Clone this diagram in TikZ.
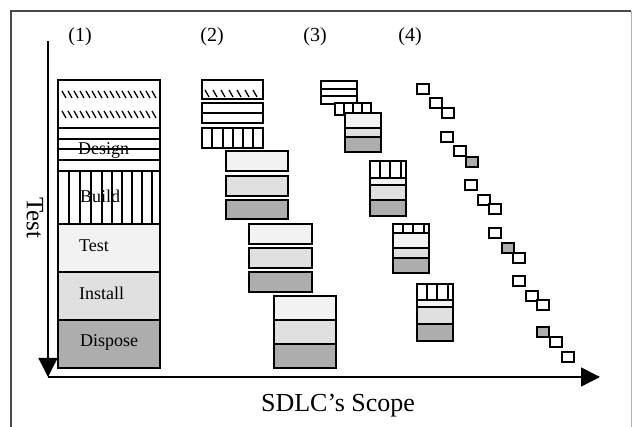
\documentclass[tikz,border=0pt]{standalone}
\usepackage{fontspec}
\setmainfont{Liberation Serif}
\usepackage{tikz}
\usetikzlibrary{arrows.meta}
\definecolor{FrameGray}{HTML}{4A4A4A}
\definecolor{PaleGray} {HTML}{F2F2F2}
\definecolor{LightGray}{HTML}{E0E0E0}
\definecolor{MidGray}  {HTML}{ADADAD}

\begin{document}
\begin{tikzpicture}[
  x=1pt, y=-1pt,
  every node/.style={font=\fontsize{18}{20}\selectfont, inner sep=0pt},
  box/.style={draw, line width=1.5pt},
  rule/.style={line width=1.3pt},
  hatch/.style={line width=1.3pt},
  stage/.style={font=\fontsize{20}{22}\selectfont},
  axis/.style={line width=1.5pt, -{Triangle[length=19pt, width=19pt]}},
]
\useasboundingbox (0,0) rectangle (632,427);

% Frame
\draw[FrameGray, line width=1.3pt] (11,427) -- (11,11) -- (631,11);
\draw[gray!60, line width=1pt] (631,11) -- (631,427);

% Axes
\coordinate (origin) at (48,377);
\coordinate (ytop)   at (48,41);
\coordinate (xend)   at (600,377);
\draw[axis] (ytop) -- (origin);
\draw[axis] (origin) -- (xend);
\node[rotate=-90, font=\fontsize{25}{27}\selectfont] (testaxis) at (35,218) {Test};
\node[anchor=base, font=\fontsize{26}{28}\selectfont] (scope) at (338,412) {SDLC’s Scope};

% Stage labels
\node[stage] (s1) at (80,37)  {(1)};
\node[stage] (s2) at (212,37) {(2)};
\node[stage] (s3) at (315,37) {(3)};
\node[stage] (s4) at (410,37) {(4)};

% Column 1: full life cycle
\fill[PaleGray]  (58,224) rectangle (160,272);
\fill[LightGray] (58,272) rectangle (160,320);
\fill[MidGray]   (58,320) rectangle (160,368);
\foreach \y in {95,115}
  \foreach \x in {62,68,...,154}
    \draw[hatch] (\x,\y-4) -- (\x+4,\y+3);
\foreach \y in {139,149,160}
  \draw[rule] (58,\y) -- (160,\y);
\foreach \x in {69,80,91,102,112,122,132,142,152}
  \draw[rule] (\x,171) -- (\x,224);
\foreach \y in {128,171,224,272,320}
  \draw[rule] (58,\y) -- (160,\y);
\draw[box] (58,80) rectangle (160,368);

\node[anchor=base west] (design)  at (78,155) {Design};
\node[anchor=base west] (build)   at (80,203) {Build};
\node[anchor=base west] (test)    at (79,252) {Test};
\node[anchor=base west] (install) at (79,300) {Install};
\node[anchor=base west] (dispose) at (80,347) {Dispose};

% Column 2: phases in sequence
\foreach \x in {205,213,...,257}
  \draw[hatch] (\x,90) -- (\x+4,97);
\draw[box] (202,80) rectangle (263,99);
\draw[box] (202,103) rectangle (263,123);
\draw[rule] (202,113) -- (263,113);
\foreach \x in {212,223,233,243,253}
  \draw[rule] (\x,128) -- (\x,148);
\draw[box] (202,128) rectangle (263,148);

\draw[box, fill=PaleGray]  (226,151) rectangle (288,171);
\draw[box, fill=LightGray] (226,176) rectangle (288,196);
\draw[box, fill=MidGray]   (226,200) rectangle (288,219);

\draw[box, fill=PaleGray]  (249,224) rectangle (312,244);
\draw[box, fill=LightGray] (249,248) rectangle (312,268);
\draw[box, fill=MidGray]   (249,272) rectangle (312,292);

\fill[PaleGray]  (274,296) rectangle (336,320);
\fill[LightGray] (274,320) rectangle (336,344);
\fill[MidGray]   (274,344) rectangle (336,368);
\draw[rule] (274,320) -- (336,320) (274,344) -- (336,344);
\draw[box] (274,296) rectangle (336,368);

% Column 3: overlapping phases
\draw[box, fill=white] (321,81) rectangle (357,104);
\draw[rule] (321,89) -- (357,89) (321,96) -- (357,96);
\draw[box, fill=white] (335,103) rectangle (371,115);
\foreach \x in {344,353,362}
  \draw[rule] (\x,103) -- (\x,115);
\fill[PaleGray]  (345,113) rectangle (381,128);
\fill[LightGray] (345,128) rectangle (381,137);
\fill[MidGray]   (345,137) rectangle (381,152);
\draw[rule] (345,128) -- (381,128) (345,137) -- (381,137);
\draw[box] (345,113) rectangle (381,152);

\foreach \x/\ya/\yb/\yc/\yd/\ye in {370/161/178/185/200/216, 393/224/233/248/258/273, 417/284/300/307/324/341} {
  \fill[PaleGray]  (\x,\yb) rectangle (\x+36,\yc);
  \fill[LightGray] (\x,\yc) rectangle (\x+36,\yd);
  \fill[MidGray]   (\x,\yd) rectangle (\x+36,\ye);
  \foreach \dx in {10,20,31}
    \draw[rule] (\x+\dx,\ya) -- (\x+\dx,\yb);
  \draw[rule] (\x,\yb) -- (\x+36,\yb) (\x,\yc) -- (\x+36,\yc) (\x,\yd) -- (\x+36,\yd);
  \draw[box] (\x,\ya) rectangle (\x+36,\ye);
}

% Column 4: small iterations
\foreach \x/\y/\c in {417/84/white, 430/98/white, 442/108/white,
                      441/132/white, 454/146/white, 466/157/MidGray,
                      465/180/white, 478/195/white, 489/204/white,
                      489/228/white, 502/243/MidGray, 513/253/white,
                      513/276/white, 526/291/white, 537/300/white,
                      537/327/MidGray, 550/337/white, 562/352/white}
  \draw[box, line width=1.3pt, fill=\c] (\x,\y) rectangle +(12,10);

\end{tikzpicture}
\end{document}
